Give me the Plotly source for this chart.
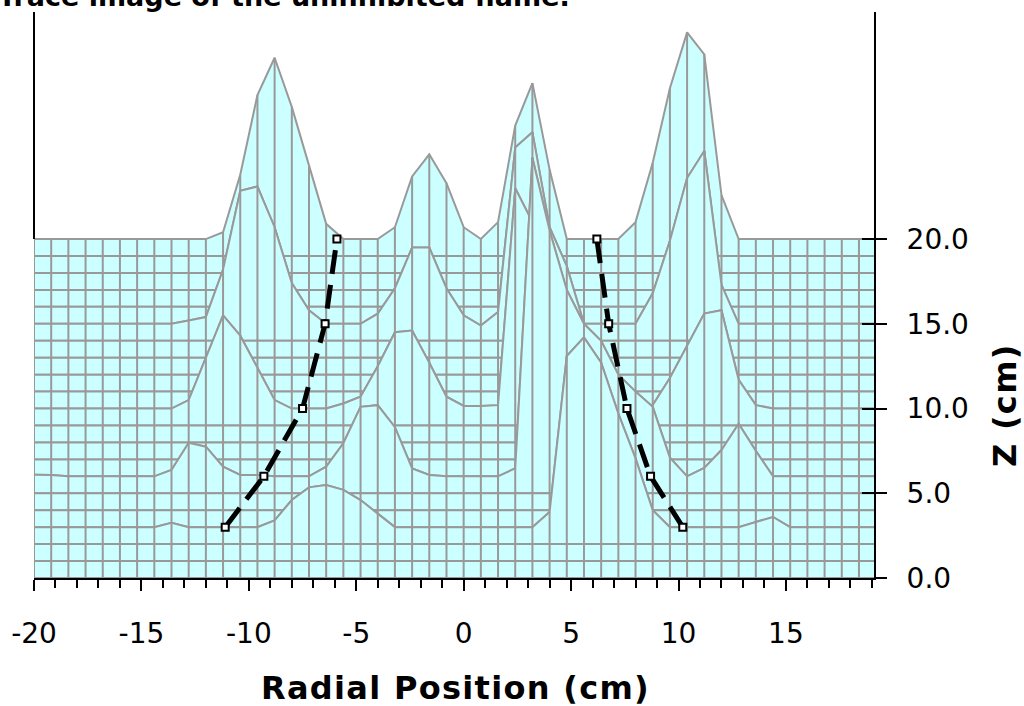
import plotly.graph_objects as go

# ---------------- data ----------------
x_cm = [-20.0, -19.2, -18.4, -17.6, -16.8, -16.0, -15.2, -14.4, -13.6, -12.8,
        -12.0, -11.2, -10.4, -9.6, -8.8, -8.0, -7.2, -6.4, -5.6, -4.8,
        -4.0, -3.2, -2.4, -1.6, -0.8, 0.0, 0.8, 1.6, 2.4, 3.2,
        4.0, 4.8, 5.6, 6.4, 7.2, 8.0, 8.8, 9.6, 10.4, 11.2,
        12.0, 12.8, 13.6, 14.4, 15.2, 16.0, 16.8, 17.6, 18.4, 19.2]

z_rows = list(range(0, 21))  # mesh rows (cm)

# trace profiles (plotted height) at the measured heights
profile_z3 = [3, 3, 3, 3, 3, 3, 3, 3.0, 3.26, 3.0,
              3, 3, 3, 3, 3.4, 4.6, 5.35, 5.49, 5.2, 4.6,
              3.8, 3, 3, 3, 3, 3, 3, 3, 3, 3,
              3.9, 13.1, 14.2, 12.7, 9.7, 7.06, 4.0, 3, 3, 3,
              3, 3, 3.3, 3.6, 3.0, 3, 3, 3, 3, 3]
profile_z6 = [6.1, 6.08, 6, 6, 6, 6, 6, 6, 6.37, 7.98,
              7.75, 6.57, 6.08, 6.08, 6.0, 6.0, 6.0, 6.57, 7.95, 10.1,
              10.2, 8.9, 6.47, 6.08, 6.0, 6.0, 6.0, 6.0, 6.47, 24.8,
              20.5, 17.0, 15.0, 14.0, 12.0, 11.0, 10.1, 7.1, 6.0, 6.5,
              7.55, 9.1, 7.5, 6.0, 6, 6, 6, 6, 6, 6]
profile_z10 = [10, 10, 10, 10, 10, 10, 10, 10, 10.0, 10.5,
               13.0, 15.5, 14.3, 12.4, 10.5, 10.0, 10.0, 10.0, 10.3, 10.7,
               12.5, 14.5, 14.6, 12.7, 10.7, 10.15, 10.15, 10.2, 23.0, 21.0,
               17.0, 13.5, 11.0, 10.0, 10.0, 10.0, 10.2, 11.8, 13.7, 15.6,
               15.8, 11.7, 10.2, 10, 10, 10, 10, 10, 10, 10]
profile_z15 = [15, 15, 15, 15, 15, 15, 15, 15, 15.0, 15.2,
               15.4, 18.2, 22.85, 23.1, 20.7, 17.4, 15.8, 15.0, 15.0, 15.0,
               15.6, 17.1, 19.5, 19.5, 17.1, 15.5, 14.9, 15.7, 25.4, 26.3,
               20.7, 18.4, 15.0, 15.0, 15.0, 15.0, 16.8, 19.9, 23.6, 25.2,
               17.3, 15.0, 15, 15, 15, 15, 15, 15, 15, 15]
profile_z20 = [20, 20, 20, 20, 20, 20, 20, 20, 20, 20,
               20, 20.4, 23.8, 28.5, 30.7, 27.8, 24.3, 20.9, 20, 20,
               20, 20.7, 23.7, 25.0, 23.3, 20.7, 20.0, 21.0, 26.7, 29.2,
               24.1, 20.0, 20, 20, 20, 21.0, 24.5, 28.9, 32.2, 30.9,
               22.6, 20, 20, 20, 20, 20, 20, 20, 20, 20]

profiles = {3: profile_z3, 6: profile_z6, 10: profile_z10,
            15: profile_z15, 20: profile_z20}

# flame edge traces
left_edge_x = [-11.1, -9.3, -7.5, -6.45, -5.9]
left_edge_z = [3, 6, 10, 15, 20]
right_edge_x = [10.2, 8.7, 7.6, 6.75, 6.2]
right_edge_z = [3, 6, 10, 15, 20]

# axis ticks
x_tickvals = [-20, -15, -10, -5, 0, 5, 10, 15]
x_ticktext = ["-20", "-15", "-10", "-5", "0", "5", "10", "15"]
z_tickvals = [0, 5, 10, 15, 20]
z_ticktext = ["0.0", "5.0", "10.0", "15.0", "20.0"]

# ---------------- styling ----------------
FILL = "#CCFFFF"
MESH = "#999999"
MESH_W = 2.0
FONT = "DejaVu Sans"

def row_heights(z):
    return profiles.get(z, [z] * len(x_cm))

fig = go.Figure()

# painter's algorithm: back strips first
for i in range(len(z_rows) - 2, -1, -1):
    lo = row_heights(z_rows[i])
    hi = row_heights(z_rows[i + 1])
    px = list(x_cm) + list(reversed(x_cm)) + [x_cm[0]]
    py = list(hi) + list(reversed(lo)) + [hi[0]]
    fig.add_trace(go.Scatter(x=px, y=py, mode="lines", fill="toself",
                             fillcolor=FILL, line=dict(width=0),
                             hoverinfo="skip", showlegend=False))
    ex, ey = [], []
    ex += list(x_cm) + [None]
    ey += list(hi) + [None]
    ex += list(x_cm) + [None]
    ey += list(lo) + [None]
    for k, xv in enumerate(x_cm):
        ex += [xv, xv, None]
        ey += [lo[k], hi[k], None]
    fig.add_trace(go.Scatter(x=ex, y=ey, mode="lines",
                             line=dict(color=MESH, width=MESH_W),
                             hoverinfo="skip", showlegend=False))

for ex_, ez_ in [(left_edge_x, left_edge_z), (right_edge_x, right_edge_z)]:
    fig.add_trace(go.Scatter(
        x=ex_, y=ez_, mode="lines+markers",
        line=dict(color="black", width=5, dash="24px,11px"),
        marker=dict(symbol="square", size=7, color="white",
                    line=dict(color="black", width=2)),
        hoverinfo="skip", showlegend=False))

YTOP = 33.4
fig.update_layout(
    width=1024, height=706,
    margin=dict(l=34, r=150, t=12, b=128, autoexpand=False),
    paper_bgcolor="white", plot_bgcolor="white",
    font=dict(family=FONT, color="black"),
    showlegend=False,
    xaxis=dict(range=[-20, 19.1], showgrid=False, zeroline=False,
               automargin=False,
               showline=True, linecolor="black", linewidth=2, mirror=False,
               ticks="outside", ticklen=11, tickwidth=2, tickcolor="black",
               tickvals=x_tickvals, ticktext=x_ticktext,
               minor=dict(ticks="outside", ticklen=8, tickwidth=2,
                          tickcolor="black", tick0=-20, dtick=1,
                          showgrid=False),
               tickfont=dict(family=FONT, size=28, color="black"),
               ticklabelstandoff=18),
    yaxis=dict(range=[0, YTOP], side="right", showgrid=False, zeroline=False,
               automargin=False,
               showline=True, linecolor="black", linewidth=2,
               ticks="outside", ticklen=11, tickwidth=2, tickcolor="black",
               tickvals=z_tickvals, ticktext=z_ticktext,
               tickfont=dict(family=FONT, size=28, color="black"),
               ticklabelstandoff=14),
    yaxis2=dict(range=[0, YTOP], overlaying="y", side="right",
                automargin=False,
                showgrid=False, zeroline=False, showline=False,
                ticks="inside", ticklen=12, tickwidth=2, tickcolor="black",
                tickvals=z_tickvals, showticklabels=False),
    shapes=[dict(type="line", xref="paper", yref="y", x0=0, x1=0,
                 y0=20, y1=YTOP, line=dict(color="black", width=2),
                 layer="above")],
    annotations=[
        dict(text="<b><span style='letter-spacing:1.3px'>Radial Position (cm)</span></b>",
             xref="paper", yref="paper",
             x=(455 - 34) / 840, y=(578 - 688) / 566, xanchor="center",
             yanchor="middle", showarrow=False,
             font=dict(family=FONT, size=32, color="black")),
        dict(text="<b><span style='letter-spacing:1.3px'>Z (cm)</span></b>",
             xref="paper", yref="paper",
             x=(1005 - 34) / 840, y=(578 - 405) / 566, xanchor="center",
             yanchor="middle", textangle=-90, showarrow=False,
             font=dict(family=FONT, size=32, color="black")),
        dict(text="<b>Trace image of the uninhibited flame.</b>",
             xref="paper", yref="paper", x=(-4 - 34) / 840, y=1,
             xanchor="left", yanchor="bottom", yshift=-2, showarrow=False,
             font=dict(family=FONT, size=27, color="black")),
    ],
)
# dummy trace to activate yaxis2
fig.add_trace(go.Scatter(x=[None], y=[None], yaxis="y2", showlegend=False))

fig.write_html("out.html")
